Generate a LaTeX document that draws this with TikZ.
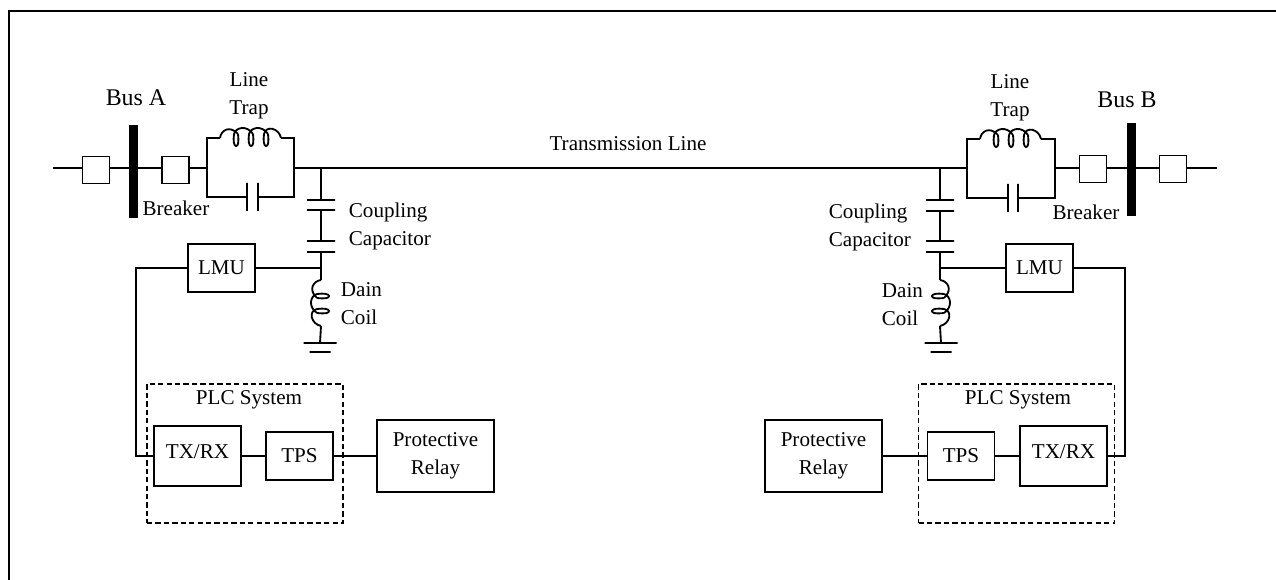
\documentclass[tikz,border=0pt]{standalone}
\usepackage{fontspec}
\setmainfont{Liberation Serif}

\tikzset{
  pics/coilsym/.style={code={
    \draw (0,0) .. controls (1,-8) and (10,-13) .. (18,-4);
    \foreach \i [evaluate=\i as \xc using int(1+15*\i)] in {1,...,#1} {
      \draw (\xc+2,-4) .. controls (\xc+3,5) and (\xc+2,8) .. (\xc,8)
        .. controls (\xc-2,8) and (\xc-3,3) .. (\xc-2,-4);
    }
    \foreach \i [evaluate=\i as \xc using int(1+15*\i)] in {1,...,#1} {
      \ifnum\i<#1
        \draw (\xc-2,-4) .. controls (\xc,-11) and (\xc+11,-13) .. (\xc+17,-4);
      \else
        \draw (\xc-2,-4) .. controls (\xc,-13) and (\xc+13,-10) .. (\xc+15,0);
      \fi
    }
  }}
}

\begin{document}
\begin{tikzpicture}[x=0.2mm,y=-0.2mm,line width=1.05pt,
    every node/.style={font=\fontsize{12}{15.9}\selectfont,inner sep=0pt},
    boxnode/.style={draw,fill=white,align=center},
    breaker/.style={boxnode,minimum width=5.4mm,minimum height=5.4mm},
    unitbox/.style={boxnode,minimum width=13.4mm,minimum height=9.6mm},
    txbox/.style={boxnode,minimum width=17.4mm,minimum height=12mm,text depth=4.5pt},
    relaybox/.style={boxnode,minimum width=23.4mm,minimum height=14.4mm},
    plcbox/.style={draw,dash pattern=on 3pt off 1.8pt,minimum width=39.2mm,minimum height=27.8mm},
    busbar/.style={fill=black,minimum width=1.8mm,minimum height=18.6mm},
    hplate/.style={draw,minimum width=5.6mm,minimum height=0pt},
    vplate/.style={draw,minimum height=5.6mm,minimum width=0pt},
    busname/.style={font=\fontsize{13.6}{16}\selectfont}]
  \useasboundingbox (0,0) rectangle (1276,580);

  % frame
  \coordinate (frameb) at (9,580);
  \coordinate (framer) at (1276,11);
  \draw[line width=1.2pt] (frameb) |- (framer);

  % main line
  \coordinate (lineA) at (53,168);
  \coordinate (lineB) at (1217,168);
  \coordinate (trapAl) at (207,168);
  \coordinate (trapAr) at (294,168);
  \coordinate (trapBl) at (967,168);
  \coordinate (trapBr) at (1055,168);
  \draw (lineA) -- (trapAl);
  \draw (trapAr) -- (trapBl);
  \draw (trapBr) -- (lineB);

  \node[breaker] (brkAa) at (96,170) {};
  \node[breaker] (brkAb) at (175.5,170) {};
  \node[breaker] (brkBa) at (1093,169) {};
  \node[breaker] (brkBb) at (1173,169) {};
  \node[busbar] (busA) at (133.5,171.5) {};
  \node[busbar] (busB) at (1131.5,169.5) {};
  \node[busname] (busAl) at (136,98) {Bus A};
  \node[busname] (busBl) at (1127,100) {Bus B};
  \node (brkAl) at (176,208) {Breaker};
  \node (brkBl) at (1086,212) {Breaker};
  \node (linel) at (628,144) {Transmission Line};

  % line trap A
  \node[align=center] (trapAt) at (249,96) {Line\\Trap};
  \coordinate (coilAa) at (220,138);
  \coordinate (coilAb) at (281,138);
  \coordinate (capAl) at (247,197);
  \coordinate (capAr) at (258,197);
  \node[vplate] (capAa) at (capAl) {};
  \node[vplate] (capAb) at (capAr) {};
  \draw (trapAl) |- (coilAa);
  \pic at (coilAa) {coilsym=3};
  \draw (coilAb) -| (trapAr);
  \draw (trapAl) |- (capAa);
  \draw (trapAr) |- (capAb);

  % line trap B
  \node[align=center] (trapBt) at (1010,98) {Line\\Trap};
  \coordinate (coilBa) at (980,139);
  \coordinate (coilBb) at (1041,139);
  \coordinate (capBl) at (1008,198);
  \coordinate (capBr) at (1018,198);
  \node[vplate] (capBa) at (capBl) {};
  \node[vplate] (capBb) at (capBr) {};
  \draw (trapBl) |- (coilBa);
  \pic at (coilBa) {coilsym=3};
  \draw (coilBb) -| (trapBr);
  \draw (trapBl) |- (capBa);
  \draw (trapBr) |- (capBb);

  % coupling branch A
  \coordinate (teeA) at (321,168);
  \node[hplate] (plAa) at (321,200) {};
  \node[hplate] (plAb) at (321,210) {};
  \node[hplate] (plAc) at (321,241) {};
  \node[hplate] (plAd) at (321,252) {};
  \coordinate (midA) at (321,268);
  \coordinate (dainAa) at (321,280);
  \coordinate (dainAb) at (321,326);
  \node[hplate,minimum width=6.6mm] (gndAa) at (320,343) {};
  \node[hplate,minimum width=4.2mm] (gndAb) at (320,352) {};
  \draw (teeA) -- (plAa);
  \draw (plAb) -- (plAc);
  \draw (plAd) -- (dainAa);
  \pic[rotate=-90,yscale=-1] at (dainAa) {coilsym=2};
  \draw (dainAb) -- (gndAa);
  \node[align=left,anchor=west] (cplA) at (348,226) {Coupling\\Capacitor};
  \node[align=left,anchor=west] (dainA) at (340,303.5) {Dain\\Coil};

  % coupling branch B
  \coordinate (teeB) at (940,168);
  \node[hplate] (plBa) at (940,200) {};
  \node[hplate] (plBb) at (940,211) {};
  \node[hplate] (plBc) at (940,241) {};
  \node[hplate] (plBd) at (940,252) {};
  \coordinate (midB) at (940,268);
  \coordinate (dainBa) at (940,280);
  \coordinate (dainBb) at (940,326);
  \node[hplate,minimum width=6.6mm] (gndBa) at (941,343) {};
  \node[hplate,minimum width=4.2mm] (gndBb) at (941,352) {};
  \draw (teeB) -- (plBa);
  \draw (plBb) -- (plBc);
  \draw (plBd) -- (dainBa);
  \pic[rotate=-90] at (dainBa) {coilsym=2};
  \draw (dainBb) -- (gndBa);
  \node[align=left,anchor=west] (cplB) at (828,227) {Coupling\\Capacitor};
  \node[align=left,anchor=west] (dainB) at (881,304.5) {Dain\\Coil};

  % PLC side A
  \node[plcbox] (plcA) at (245,453.5) {};
  \node (plcAl) at (249,400) {PLC System};
  \node[unitbox] (lmuA) at (221.5,268) {LMU};
  \node[txbox] (txA) at (197.5,456) {TX/RX};
  \node[unitbox] (tpsA) at (299.5,456) {TPS};
  \node[relaybox] (relA) at (435.5,456) {Protective\\Relay};
  \coordinate (cornA) at (136,456);
  \draw (midA) -- (lmuA);
  \draw (lmuA) -| (cornA) -- (txA);
  \draw (txA) -- (tpsA);
  \draw (tpsA) -- (relA);

  % PLC side B
  \node[plcbox] (plcB) at (1016.5,453.5) {};
  \node (plcBl) at (1018,400) {PLC System};
  \node[unitbox] (lmuB) at (1039.5,268) {LMU};
  \node[txbox] (txB) at (1063.5,456) {TX/RX};
  \node[unitbox] (tpsB) at (961,456) {TPS};
  \node[relaybox] (relB) at (823.5,456) {Protective\\Relay};
  \coordinate (cornB) at (1125,456);
  \draw (midB) -- (lmuB);
  \draw (lmuB) -| (cornB) -- (txB);
  \draw (txB) -- (tpsB);
  \draw (tpsB) -- (relB);
\end{tikzpicture}
\end{document}
